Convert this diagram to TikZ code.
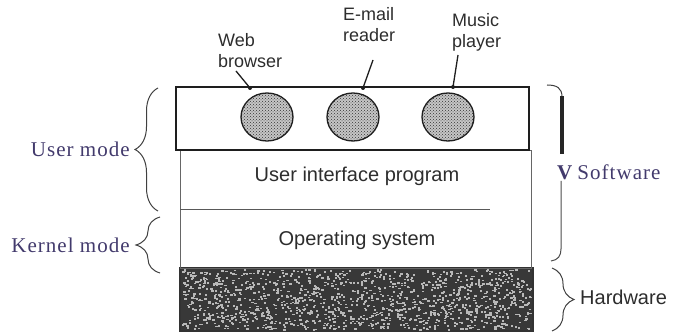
\documentclass[tikz,border=0pt]{standalone}
\usepackage{fontspec}
\setmainfont{Liberation Serif}
\newfontfamily\boxfont{Liberation Sans}
\newfontfamily\modefont[LetterSpace=5]{Liberation Serif}
\usetikzlibrary{patterns,decorations.pathreplacing,shapes.geometric}

\definecolor{inkmode}{RGB}{66,58,108}
\definecolor{inkbox}{RGB}{45,45,45}
\definecolor{edge}{RGB}{30,30,30}

\begin{document}
\begin{tikzpicture}[x=1pt,y=-1pt,
  layer/.style={draw=edge, line width=1.2pt, inner sep=0pt, outer sep=0pt, anchor=north west},
  boxtext/.style={font=\boxfont\fontsize{20}{22}\selectfont, text=inkbox},
  applabel/.style={font=\boxfont\fontsize{18}{21}\selectfont, text=inkbox, align=left, inner sep=0pt, anchor=north west},
  app/.style={ellipse, minimum width=52pt, minimum height=48pt, inner sep=0pt,
    draw=edge, line width=1.3pt, preaction={fill=gray!45},
    pattern=crosshatch dots, pattern color=gray!40!black},
  modetext/.style={font=\modefont\fontsize{21}{23}\selectfont, text=inkmode, inner sep=0pt},
  hwtext/.style={font=\boxfont\fontsize{20}{22}\selectfont, text=inkbox, inner sep=0pt},
  bracket/.style={draw=black!75, line width=1pt, decorate, decoration={brace, amplitude=#1}},
  pointer/.style={draw=edge, line width=1.3pt},
  speck/.style={fill=white!72!black},
]
\useasboundingbox (0,0) rectangle (673,334);

% hardware layer: dark slab with light speckles
\node[layer, draw=black!80, fill=black!78, minimum width=353pt, minimum height=63pt]
  (hardware) at (180,268) {};
\pgfmathsetseed{4711}
\foreach \i in {1,...,1300}{
  \pgfmathsetmacro\px{181+349*rnd}
  \pgfmathsetmacro\py{269+60*rnd}
  \fill[speck] (\px,\py) rectangle ++(2.2,1.6);
}

% software layers below the applications
\node[layer, draw=black!60, line width=0.9pt, minimum width=351pt, minimum height=118pt]
  (lower) at (180,150) {};
\coordinate (sepL) at (180,209);
\coordinate (sepR) at (490,209);
\draw[black!65, line width=0.8pt] (sepL) -- (sepR);
\node[boxtext] (ui) at (357,176) {User interface program};
\node[boxtext] (os) at (357,240) {Operating system};

% application layer
\node[layer, minimum width=353pt, minimum height=63pt] (apps) at (176,87) {};
\node[app] (web)   at (267,117) {};
\node[app] (mail)  at (353,117) {};
\node[app] (music) at (448,117) {};

% application labels and their pointers
\node[applabel] (weblbl)   at (218,33) {Web\\browser};
\node[applabel] (maillbl)  at (343,7)  {E-mail\\reader};
\node[applabel] (musiclbl) at (452,13) {Music\\player};
\coordinate (webfoot)   at (236,71);
\coordinate (mailfoot)  at (373,60);
\coordinate (musicfoot) at (458,55);
\coordinate (webtip)   at (250,88);
\coordinate (mailtip)  at (363,88);
\coordinate (musictip) at (453,87);
\draw[pointer] (webfoot) -- (webtip);
\draw[pointer] (mailfoot) -- (mailtip);
\draw[pointer] (musicfoot) -- (musictip);
\fill[edge] (webtip) circle (2pt) (mailtip) circle (2pt) (musictip) circle (2pt);

% mode braces on the left
\draw[bracket=23pt] (158,211) -- (158,88);
\node[modetext, anchor=east] (usermode) at (130,149) {User mode};
\draw[bracket=24pt] (160,273) -- (160,217);
\node[modetext, anchor=east] (kernelmode) at (130,245) {Kernel mode};

% software brace on the right
\draw[black!75, line width=1pt] (547,85) .. controls (557,85) and (562,88) .. (562,97);
\draw[black!85, line width=3.5pt] (562,96) -- (562,154);
\draw[black!70, line width=1pt] (561,181) -- (561,249) .. controls (561,256) and (558,260) .. (551,261);
\node[modetext, anchor=west] (software) at (557,172) {\textbf{V}\hspace{4pt}Software};

% hardware brace
\draw[bracket=22pt] (552,268) -- (552,331);
\node[hwtext, anchor=west] (hwlbl) at (580,297) {Hardware};
\end{tikzpicture}
\end{document}
